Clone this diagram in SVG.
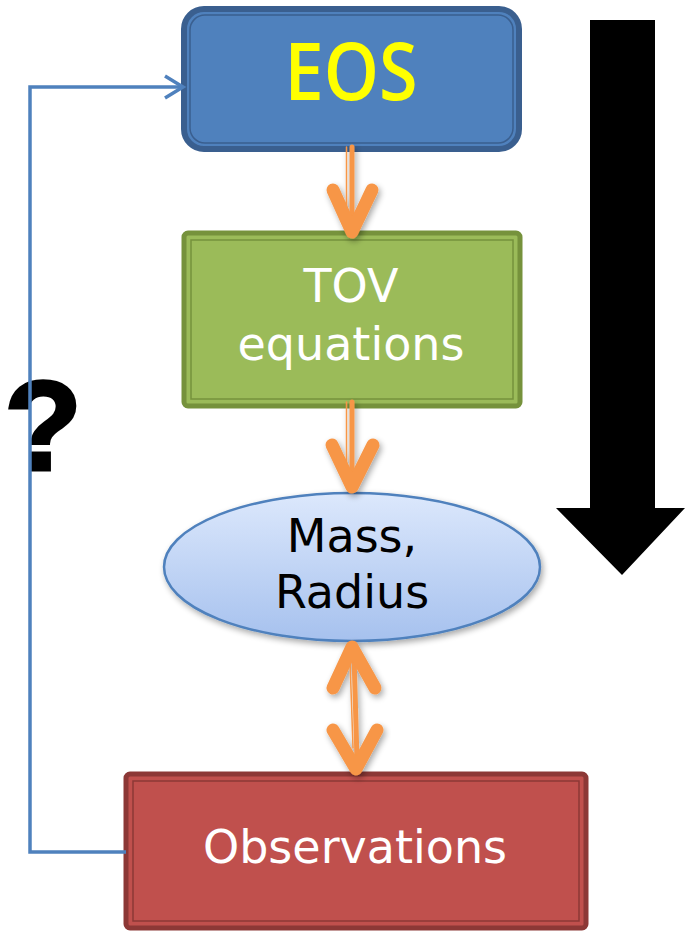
<svg xmlns="http://www.w3.org/2000/svg" width="685" height="931" viewBox="0 0 685 931">
<defs>
<style>
.lbl{font-family:"DejaVu Sans",Verdana,sans-serif;font-size:46px;text-anchor:middle}
.orng{stroke:#f79646;fill:none;stroke-linecap:round;stroke-linejoin:round}
.blue{stroke:#4f81bd;stroke-width:3.5;fill:none}
</style>
<linearGradient id="ellg" x1="0" y1="0" x2="0" y2="1">
<stop offset="0" stop-color="#dce8fc"/>
<stop offset="1" stop-color="#a6c1ee"/>
</linearGradient>
<filter id="sh" x="-30%" y="-30%" width="160%" height="160%">
<feGaussianBlur in="SourceAlpha" stdDeviation="3"/>
<feOffset dx="2" dy="3" result="b"/>
<feComponentTransfer><feFuncA type="linear" slope="0.35"/></feComponentTransfer>
<feMerge><feMergeNode/><feMergeNode in="SourceGraphic"/></feMerge>
</filter>
</defs>
<rect width="685" height="931" fill="#ffffff"/>

<g id="big-arrow">
<polygon points="590,20 655,20 655,508 685,508 622,575 556,508 590,508" fill="#000000"/>
</g>

<g id="question">
<text x="43" y="470" font-family="'Liberation Sans',Arial,sans-serif" font-weight="bold" font-size="128" text-anchor="middle" fill="#000000" stroke="#000000" stroke-width="3">?</text>
</g>

<g id="eos">
<rect x="184" y="9" width="335" height="140" rx="20" fill="#4f81bd" stroke="#3a5f8f" stroke-width="6"/>
<rect x="190" y="15" width="323" height="128" rx="15" fill="none" stroke="#3a5f8f" stroke-width="1.5"/>
<text x="351" y="100" font-family="'Open Sans','Liberation Sans',sans-serif" font-weight="600" font-size="79" fill="#ffff00" text-anchor="middle" textLength="133" lengthAdjust="spacingAndGlyphs">EOS</text>
</g>

<g id="tov">
<rect x="184" y="233" width="336" height="173" rx="4" fill="#9bbb59" stroke="#76923c" stroke-width="5"/>
<rect x="191" y="240" width="322" height="159" fill="none" stroke="#76923c" stroke-width="1.5"/>
<text class="lbl" x="351" y="302" fill="#ffffff">TOV</text>
<text class="lbl" x="351" y="360" fill="#ffffff">equations</text>
</g>

<g id="massradius">
<ellipse cx="352" cy="567" rx="188" ry="74" fill="url(#ellg)" stroke="#4f81bd" stroke-width="2.5" filter="url(#sh)"/>
<text class="lbl" x="352" y="552" font-size="45" fill="#000000">Mass,</text>
<text class="lbl" x="352" y="608" font-size="45" fill="#000000">Radius</text>
</g>

<g id="observations">
<rect x="126" y="774" width="460" height="154" rx="4" fill="#c0504d" stroke="#8c3836" stroke-width="5"/>
<rect x="133" y="781" width="446" height="140" fill="none" stroke="#8c3836" stroke-width="1.5"/>
<text class="lbl" x="355" y="863" fill="#ffffff">Observations</text>
</g>

<g id="connectors">
<g filter="url(#sh)">
<line class="orng" x1="346.5" y1="147" x2="346.5" y2="215" stroke-width="1.5"/>
<line class="orng" x1="352" y1="147" x2="352" y2="228" stroke-width="5"/>
<polyline class="orng" points="333,190 352,232 372,190" stroke-width="13"/>

<line class="orng" x1="346.5" y1="402" x2="346.5" y2="470" stroke-width="1.5"/>
<line class="orng" x1="352" y1="402" x2="352" y2="483" stroke-width="5"/>
<polyline class="orng" points="332,445 352,487 373,445" stroke-width="13"/>

<line class="orng" x1="350" y1="660" x2="353" y2="748" stroke-width="1.5"/>
<line class="orng" x1="354" y1="655" x2="357" y2="760" stroke-width="5"/>
<polyline class="orng" points="333,688 352,647 375,688" stroke-width="13"/>
<polyline class="orng" points="333,730 356,769 377,730" stroke-width="13"/>
</g>
<polyline class="blue" points="126,852 30,852 30,87 182,87"/>
<polyline class="blue" points="165,76 183,87 165,98"/>
</g>
</svg>
